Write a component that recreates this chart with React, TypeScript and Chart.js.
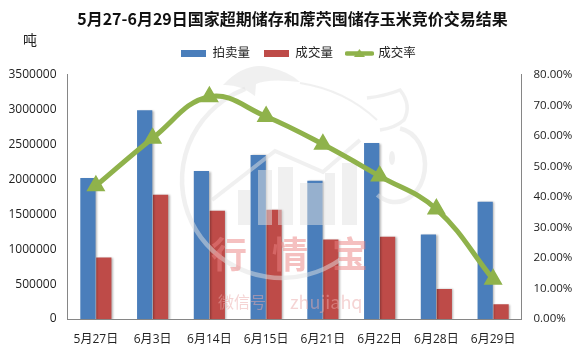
import React, { useEffect, useRef } from "react";
import { Chart, registerables } from "chart.js";

Chart.register(...registerables);

const categories = ["5月27日", "6月3日", "6月14日", "6月15日", "6月21日", "6月22日", "6月28日", "6月29日"];
const auctioned = [2020000, 2990000, 2120000, 2350000, 1980000, 2520000, 1210000, 1680000];
const traded = [880000, 1780000, 1550000, 1565000, 1140000, 1180000, 430000, 210000];
const rate = [43.6, 59.2, 72.8, 66.3, 57.2, 46.8, 36, 13];
const titleText = "5月27-6月29日国家超期储存和蓆茓囤储存玉米竞价交易结果";
const seriesNames = ["拍卖量", "成交量", "成交率"];
const BLUE = "#4A7EBB";
const RED = "#BE4B48";
const GREEN = "#8FB24B";
const FONT = "'Open Sans', 'Noto Sans CJK SC', sans-serif";

function rectSwatch(color: string) {
  const c = document.createElement("canvas");
  c.width = 25;
  c.height = 7;
  const x = c.getContext("2d")!;
  x.fillStyle = color;
  x.fillRect(0, 0, 25, 7);
  return c;
}
function lineSwatch(color: string) {
  const c = document.createElement("canvas");
  c.width = 29;
  c.height = 11;
  const x = c.getContext("2d")!;
  x.strokeStyle = color;
  x.fillStyle = color;
  x.lineWidth = 4.5;
  x.lineCap = "round";
  x.beginPath();
  x.moveTo(2, 5.5);
  x.lineTo(27, 5.5);
  x.stroke();
  x.beginPath();
  x.moveTo(14.5, 1);
  x.lineTo(20, 9);
  x.lineTo(9, 9);
  x.closePath();
  x.fill();
  return c;
}

function drawWatermark(ctx: CanvasRenderingContext2D) {
  ctx.save();
  const g = "rgba(225,225,225,0.5)";
  ctx.strokeStyle = g;
  ctx.fillStyle = g;
  // hat
  ctx.beginPath();
  ctx.moveTo(223, 85);
  ctx.quadraticCurveTo(245, 62, 268, 67);
  ctx.quadraticCurveTo(290, 72, 300, 82);
  ctx.quadraticCurveTo(268, 78, 256, 84);
  ctx.lineTo(255, 96);
  ctx.quadraticCurveTo(240, 84, 223, 85);
  ctx.fill();
  ctx.lineWidth = 2;
  ctx.beginPath();
  ctx.moveTo(300, 83);
  ctx.quadraticCurveTo(345, 90, 377, 120);
  ctx.stroke();
  // ear
  ctx.lineWidth = 3.5;
  ctx.beginPath();
  ctx.moveTo(367, 98);
  ctx.quadraticCurveTo(385, 96, 400, 90);
  ctx.quadraticCurveTo(412, 105, 404, 120);
  ctx.quadraticCurveTo(395, 128, 380, 130);
  ctx.stroke();
  // head
  ctx.lineWidth = 4.5;
  ctx.beginPath();
  ctx.ellipse(282, 180, 100, 98, 0, Math.PI * 0.3, Math.PI * 1.38);
  ctx.stroke();
  // snout
  ctx.beginPath();
  ctx.ellipse(395, 165, 30, 37, 0, -1.4, 2.2);
  ctx.stroke();
  ctx.beginPath();
  ctx.ellipse(392, 158, 3, 7, 0, 0, Math.PI * 2);
  ctx.fill();
  // house
  ctx.lineWidth = 4;
  ctx.beginPath();
  ctx.moveTo(212, 200);
  ctx.lineTo(275, 151);
  ctx.lineTo(323, 172);
  ctx.lineTo(360, 140);
  ctx.stroke();
  const columns = [
    [238, 12, 190],
    [258, 14, 170],
    [278, 15, 167],
    [300, 23, 183],
    [325, 10, 173],
    [342, 15, 163],
  ];
  columns.forEach(([x, w, top]) => ctx.fillRect(x, top, w, 225 - top));
  // brand
  ctx.fillStyle = "rgba(235,130,130,0.5)";
  ctx.font = "bold 36px 'Noto Sans CJK SC'";
  ctx.textAlign = "center";
  ctx.textBaseline = "middle";
  ctx.fillText("行", 229, 254);
  ctx.fillText("情", 290, 254);
  ctx.fillText("宝", 350, 254);
  ctx.fillStyle = "rgba(235,170,170,0.5)";
  ctx.textAlign = "left";
  ctx.font = "16px 'Noto Sans CJK SC'";
  ctx.fillText("微信号", 218, 302);
  ctx.font = "18px 'Noto Sans CJK SC'";
  ctx.fillText("zhujiahq", 290, 302);
  ctx.restore();
}

const decor = {
  id: "decor",
  afterLayout(chart: any) {
    chart.legend.left += 6;
    chart.legend.right += 6;
    chart.legend.top -= 5;
    chart.legend.bottom -= 5;
  },
  beforeDatasetDraw(chart: any, args: any) {
    const ctx = chart.ctx;
    if (args.index === 2) {
      drawWatermark(ctx);
    }
    ctx.save();
    if (args.index !== 2) {
      ctx.shadowColor = "rgba(0,0,0,0.28)";
      ctx.shadowBlur = 2;
      ctx.shadowOffsetX = 1.5;
      ctx.shadowOffsetY = 0.5;
    }
  },
  afterDatasetDraw(chart: any) {
    chart.ctx.restore();
  },
  afterDraw(chart: any) {
    const ctx = chart.ctx;
    ctx.save();
    ctx.fillStyle = "#222";
    ctx.font = "14px 'Noto Sans CJK SC'";
    ctx.textAlign = "center";
    ctx.textBaseline = "middle";
    ctx.fillText("吨", 30, 40);
    ctx.restore();
  },
};

export default function App() {
  const ref = useRef<HTMLCanvasElement>(null);
  useEffect(() => {
    document.body.style.margin = "0";
    const swatches = [rectSwatch(BLUE), rectSwatch(RED), lineSwatch(GREEN)];
    const chart = new Chart(ref.current!, {
      data: {
        labels: categories,
        datasets: [
          {
            type: "bar",
            label: seriesNames[0],
            data: auctioned,
            backgroundColor: BLUE,
            yAxisID: "y",
            order: 1,
            categoryPercentage: 0.56,
            barPercentage: 0.96,
          },
          {
            type: "bar",
            label: seriesNames[1],
            data: traded,
            backgroundColor: RED,
            yAxisID: "y",
            order: 2,
            categoryPercentage: 0.56,
            barPercentage: 0.96,
          },
          {
            type: "line",
            label: seriesNames[2],
            data: rate,
            borderColor: GREEN,
            backgroundColor: GREEN,
            borderWidth: 5,
            tension: 0.4,
            pointStyle: "triangle",
            pointRadius: 6,
            pointBackgroundColor: GREEN,
            pointBorderColor: GREEN,
            borderCapStyle: "round",
            yAxisID: "y1",
            order: 0,
          },
        ],
      } as any,
      options: {
        responsive: false,
        animation: false,
        layout: { padding: 0 },
        plugins: {
          tooltip: { enabled: false },
          title: {
            display: true,
            text: titleText,
            color: "#111",
            font: { family: "'Noto Sans CJK SC'", size: 16, weight: "bold", lineHeight: 1.2 },
            padding: { top: 9, bottom: 10 },
          },
          legend: {
            display: true,
            position: "top",
            labels: {
              usePointStyle: true,
              pointStyleWidth: 25,
              boxHeight: 7,
              padding: 14,
              color: "#222",
              font: { family: FONT, size: 12.5 },
              generateLabels: () =>
                seriesNames.map((text, i) => ({
                  text,
                  pointStyle: swatches[i],
                  hidden: false,
                  datasetIndex: i,
                  fontColor: "#222",
                })),
            },
          },
        },
        scales: {
          x: {
            grid: { display: false },
            border: { display: true, color: "#868686", width: 1 },
            ticks: { color: "#222", font: { family: FONT, size: 12 }, padding: 5, maxRotation: 0, autoSkip: false },
            afterFit: (s: any) => {
              s.height = 34;
            },
          },
          y: {
            position: "left",
            min: 0,
            max: 3500000,
            grid: { display: false },
            border: { display: true, color: "#868686", width: 1 },
            ticks: {
              stepSize: 500000,
              color: "#222",
              font: { family: FONT, size: 12 },
              padding: 3,
              callback: (v: any) => String(v),
            },
            afterFit: (s: any) => {
              s.width = 67.5;
            },
          },
          y1: {
            position: "right",
            min: 0,
            max: 80,
            grid: { display: false },
            border: { display: true, color: "#868686", width: 1 },
            ticks: {
              stepSize: 10,
              color: "#222",
              font: { family: FONT, size: 11.5 },
              padding: 4,
              callback: (v: any) => `${Number(v).toFixed(2)}%`,
            },
            afterFit: (s: any) => {
              s.width = 63.5;
            },
          },
        },
      } as any,
      plugins: [decor],
    });
    return () => chart.destroy();
  }, []);
  return <canvas ref={ref} width={585} height={353} style={{ display: "block" }} />;
}
